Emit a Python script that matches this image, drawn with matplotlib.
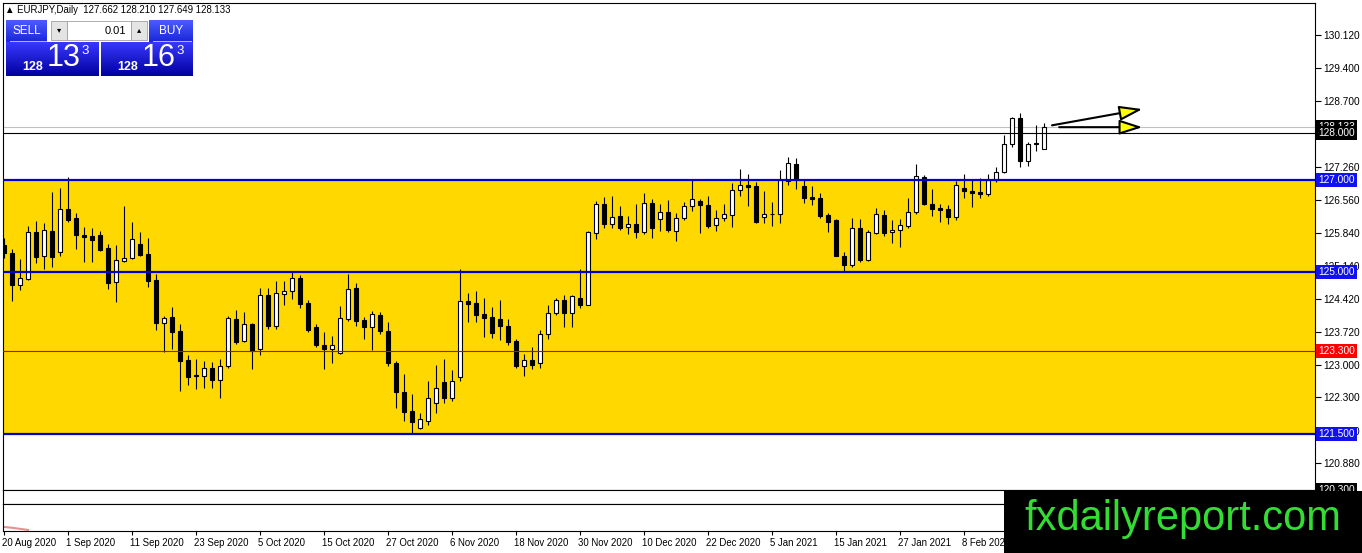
import numpy as np
import matplotlib.pyplot as plt
import matplotlib.transforms as mtransforms
from matplotlib.patches import Rectangle

plt.rcParams['font.family'] = ['Liberation Sans', 'DejaVu Sans']

# EURJPY daily candles from 20 Aug 2020
opens = [125.58, 125.42, 124.72, 124.86, 125.87, 125.36, 125.90, 125.44, 126.36, 126.17,
         125.80, 125.78, 125.80, 125.52, 124.79, 125.25, 125.31, 125.60, 125.39, 124.84,
         123.91, 124.03, 123.73, 123.10, 122.78, 122.75, 122.94, 122.67, 122.97, 123.98,
         123.52, 123.88, 123.34, 124.51, 123.85, 124.54, 124.59, 124.88, 124.34, 123.82,
         123.42, 123.34, 123.26, 124.00, 124.65, 123.96, 123.81, 124.08, 123.74, 123.05,
         122.41, 122.00, 121.63, 121.79, 122.18, 122.62, 122.29, 122.74, 124.38, 124.34,
         124.09, 124.03, 123.98, 123.85, 123.51, 122.98, 123.11, 123.04, 123.66, 124.11,
         124.41, 124.12, 124.45, 124.30, 125.85, 126.47, 126.05, 126.21, 125.97, 126.05,
         125.87, 126.49, 126.14, 126.30, 125.90, 126.16, 126.43, 126.54, 126.45, 126.01,
         126.16, 126.23, 126.77, 126.89, 126.85, 126.19, 126.26, 126.25, 126.96, 127.34,
         126.85, 126.63, 126.61, 126.24, 126.13, 125.36, 125.16, 125.95, 125.27, 125.85,
         126.24, 125.87, 125.92, 126.00, 126.29, 127.06, 126.47, 126.39, 126.36, 126.20,
         126.82, 126.76, 126.74, 126.69, 127.00, 127.17, 127.76, 128.32, 127.40, 127.78,
         127.662]
highs = [125.74, 125.51, 125.29, 126.00, 126.11, 126.07, 126.74, 126.82, 127.05, 126.28,
         125.97, 125.95, 125.89, 125.61, 125.58, 126.43, 126.08, 125.87, 125.74, 124.96,
         124.06, 124.25, 123.88, 123.21, 123.13, 123.09, 123.07, 123.13, 124.06, 124.18,
         124.14, 123.91, 124.67, 124.67, 124.81, 124.81, 125.03, 124.94, 124.40, 123.89,
         123.71, 123.63, 124.27, 124.96, 124.76, 124.03, 124.16, 124.14, 123.92, 123.09,
         122.81, 122.38, 121.96, 122.66, 122.99, 123.12, 122.90, 125.07, 124.56, 124.59,
         124.45, 124.25, 124.40, 123.98, 123.56, 123.23, 123.39, 123.76, 124.29, 124.45,
         124.51, 124.51, 125.07, 125.90, 126.53, 126.63, 126.65, 126.43, 126.21, 126.47,
         126.71, 126.59, 126.48, 126.56, 126.27, 126.51, 126.98, 126.58, 126.65, 126.34,
         126.47, 126.93, 127.22, 127.11, 126.94, 126.76, 126.52, 127.21, 127.49, 127.47,
         127.01, 126.85, 126.71, 126.27, 126.14, 125.44, 126.18, 126.14, 125.92, 126.38,
         126.34, 126.12, 126.14, 126.61, 127.33, 127.09, 126.80, 126.48, 126.45, 126.96,
         127.11, 127.00, 127.04, 127.11, 127.28, 127.96, 128.36, 128.43, 127.80, 128.18,
         128.210]
lows = [125.31, 124.38, 124.62, 124.84, 125.20, 125.07, 125.12, 125.34, 126.09, 125.50,
        125.22, 125.23, 125.45, 124.64, 124.35, 125.22, 125.29, 125.36, 124.69, 123.76,
        123.27, 123.34, 122.43, 122.56, 122.49, 122.51, 122.51, 122.29, 122.94, 123.45,
        123.49, 122.92, 123.21, 123.78, 123.78, 124.30, 124.43, 124.22, 123.72, 123.38,
        122.92, 123.04, 123.23, 123.95, 123.83, 123.56, 123.32, 123.67, 122.98, 122.07,
        121.79, 121.53, 121.61, 121.70, 121.96, 122.18, 122.22, 122.65, 123.92, 123.92,
        123.60, 123.58, 123.54, 123.43, 122.94, 122.76, 122.92, 122.94, 123.56, 124.07,
        123.82, 123.82, 124.23, 124.29, 125.72, 125.96, 125.96, 125.91, 125.82, 125.74,
        125.83, 125.73, 125.89, 125.87, 125.67, 126.12, 126.32, 125.85, 125.95, 125.90,
        126.11, 125.97, 126.65, 126.42, 126.06, 126.07, 126.00, 126.07, 126.88, 126.80,
        126.50, 126.45, 126.18, 125.87, 125.34, 125.02, 125.12, 125.22, 125.25, 125.82,
        125.78, 125.63, 125.54, 125.96, 126.25, 126.46, 126.22, 126.09, 126.05, 126.12,
        126.61, 126.40, 126.60, 126.65, 126.94, 127.14, 127.70, 127.27, 127.29, 127.62,
        127.649]
closes = [125.42, 124.72, 124.87, 125.87, 125.33, 125.92, 125.33, 126.36, 126.12, 125.81,
          125.77, 125.70, 125.49, 124.76, 125.26, 125.31, 125.71, 125.37, 124.82, 123.91,
          124.01, 123.71, 123.08, 122.73, 122.75, 122.93, 122.67, 122.98, 124.01, 123.50,
          123.88, 123.29, 124.51, 123.85, 124.55, 124.59, 124.88, 124.32, 123.76, 123.43,
          123.34, 123.42, 124.01, 124.64, 123.95, 123.82, 124.09, 123.73, 123.04, 122.41,
          121.98, 121.77, 121.83, 122.29, 122.51, 122.29, 122.66, 124.38, 124.32, 124.08,
          124.02, 123.69, 123.85, 123.49, 122.98, 123.11, 122.99, 123.66, 124.12, 124.41,
          124.11, 124.48, 124.30, 125.87, 126.47, 126.05, 126.19, 125.96, 126.03, 125.87,
          126.49, 125.96, 126.30, 125.91, 126.16, 126.42, 126.58, 126.45, 126.00, 126.16,
          126.25, 126.77, 126.89, 126.83, 126.08, 126.25, 126.25, 126.98, 127.36, 126.98,
          126.61, 126.59, 126.21, 126.09, 125.36, 125.16, 125.95, 125.26, 125.87, 126.25,
          125.85, 125.92, 126.01, 126.29, 127.07, 126.47, 126.37, 126.35, 126.20, 126.88,
          126.75, 126.72, 126.69, 127.00, 127.17, 127.76, 128.32, 127.40, 127.76, 127.76,
          128.133]

date_labels = ["20 Aug 2020", "1 Sep 2020", "11 Sep 2020", "23 Sep 2020", "5 Oct 2020",
               "15 Oct 2020", "27 Oct 2020", "6 Nov 2020", "18 Nov 2020", "30 Nov 2020",
               "10 Dec 2020", "22 Dec 2020", "5 Jan 2021", "15 Jan 2021", "27 Jan 2021",
               "8 Feb 2021"]
price_ticks = [130.12, 129.40, 128.70, 127.26, 126.56, 125.84, 125.14, 124.42,
               123.72, 123.00, 122.30, 121.58, 120.88]

zone_low, zone_high = 121.5, 127.0
blue_levels = [127.0, 125.0, 121.5]
red_level = 123.3
black_level = 128.0
bid = 128.133
# price labels on the scale: value, box colour
scale_labels = [(128.133, 'black'), (128.0, 'black'), (127.0, '#1010f0'), (125.0, '#1010f0'),
                (123.3, '#ff0000'), (121.5, '#1010f0'), (120.3, 'black')]
# arrows drawn after the last candle: (bar, price) start and end
arrow_starts = [(131.0, 128.17), (131.9, 128.13)]
arrow_ends = [(142.3, 128.52), (142.3, 128.13)]
indicator = [0.15, 0.12, 0.08, 0.04]

W, H = 1362, 553
fig = plt.figure(figsize=(W / 100, H / 100), dpi=100)


def px_axes(x0, y0, x1, y1):
    return fig.add_axes([x0 / W, 1 - y1 / H, (x1 - x0) / W, (y1 - y0) / H])


ax = px_axes(3, 3, 1315, 490)
sub1 = px_axes(3, 490, 1315, 504)
sub2 = px_axes(3, 504, 1315, 531)
xlim = (-0.125, 163.875)

# candles
x = np.arange(len(opens))
o, hi, lo, c = (np.array(a) for a in (opens, highs, lows, closes))
up = c >= o
ax.vlines(x, lo, hi, color='black', lw=0.8, zorder=3)
ax.bar(x, np.maximum(np.abs(c - o), 0.01), bottom=np.minimum(o, c), width=0.62,
       color=np.where(up, 'white', 'black'), edgecolor='black', lw=0.8, zorder=4)

# zone and levels
ax.axhspan(zone_low, zone_high, color='#ffd800', lw=0, zorder=1)
ax.axhline(bid, color='#c0c0c0', lw=0.8, zorder=2)
ax.axhline(black_level, color='black', lw=0.8, zorder=5)
ax.axhline(red_level, color='#e00000', lw=0.8, zorder=5)
for lvl in blue_levels:
    ax.axhline(lvl, color='#0000cc', lw=1.6, zorder=5)

for (x0, y0), (x1, y1) in zip(arrow_starts, arrow_ends):
    ax.annotate('', xy=(x1, y1), xytext=(x0, y0), annotation_clip=False,
                arrowprops=dict(arrowstyle='-|>,head_length=1.4,head_width=0.45',
                                fc='#ffff00', ec='black', lw=1.5, shrinkA=0, shrinkB=0),
                zorder=6)

ax.set_xlim(*xlim)
ax.set_ylim(120.30, 130.81)
ax.set_xticks([])
ax.yaxis.tick_right()
ax.set_yticks(price_ticks)
ax.set_yticklabels([f"{v:.3f}" for v in price_ticks])
ax.tick_params(axis='y', length=4, width=0.8, pad=2, labelsize=7.3)

for val, fc in scale_labels:
    ax.annotate(f"{val:.3f}", xy=(1, val), xycoords=('axes fraction', 'data'),
                xytext=(2.5, 0), textcoords='offset points', ha='left', va='center',
                fontsize=7.3, color='white', annotation_clip=False, zorder=7,
                bbox=dict(boxstyle='square,pad=0.2', fc=fc, ec='none'))

for a in (sub1, sub2):
    a.set_xlim(*xlim)
    a.set_yticks([])
sub1.set_xticks([])
sub2.plot(x[:len(indicator)], indicator, color='#e89090', lw=1.5)
sub2.set_ylim(0, 1)
sub2.set_xticks(np.arange(0, 8 * len(date_labels), 8))
sub2.set_xticklabels(date_labels, ha='left', fontsize=6.9)
sub2.tick_params(axis='x', length=3, width=0.8, pad=2)
shift = mtransforms.ScaledTranslation(-2 / 100, 0, fig.dpi_scale_trans)
for lab in sub2.get_xticklabels():
    lab.set_transform(lab.get_transform() + shift)

for a in (ax, sub1, sub2):
    for s in a.spines.values():
        s.set_linewidth(0.8)

# header line
fig.text(5 / W, 1 - 10 / H, "\u25b2 EURJPY,Daily  127.662 128.210 127.649 128.133",
         fontsize=6.9, va='center', ha='left', family=['Liberation Sans', 'DejaVu Sans'])

# one-click trading panel and logo, drawn in pixel space
ui = fig.add_axes([0, 0, 1, 1], zorder=10)
ui.patch.set_alpha(0)
ui.axis('off')


def grad_box(x0, y0, x1, y1, top, bottom):
    g = np.linspace(0, 1, 64)[:, None, None]
    img = (1 - g) * np.array(top) + g * np.array(bottom)
    ui.imshow(img, extent=(x0, x1, y1, y0), aspect='auto', interpolation='bilinear', zorder=1)


grad_box(6, 20, 47, 42, (0.30, 0.36, 1.0), (0.10, 0.15, 0.85))
grad_box(149, 20, 193, 42, (0.30, 0.36, 1.0), (0.10, 0.15, 0.85))
grad_box(6, 42, 99, 76, (0.22, 0.22, 1.0), (0.0, 0.0, 0.62))
grad_box(101, 42, 193, 76, (0.22, 0.22, 1.0), (0.0, 0.0, 0.62))
ui.plot([10, 46], [41, 41], color='#b0b8ff', lw=0.7, zorder=2)
ui.plot([153, 191], [41, 41], color='#b0b8ff', lw=0.7, zorder=2)
ui.add_patch(Rectangle((51, 21), 16, 19, fc='#e4e4e4', ec='#a0a0a0', lw=0.6, zorder=2))
ui.add_patch(Rectangle((67, 21), 64, 19, fc='white', ec='#a0a0a0', lw=0.6, zorder=2))
ui.add_patch(Rectangle((131, 21), 16, 19, fc='#e4e4e4', ec='#a0a0a0', lw=0.6, zorder=2))
ui.text(59, 30.5, "\u25be", fontsize=6, ha='center', va='center', zorder=3)
ui.text(139, 30.5, "\u25b4", fontsize=6, ha='center', va='center', zorder=3)
ui.text(126, 30.5, "0.01", fontsize=8, ha='right', va='center', zorder=3)
ui.text(27, 30.5, "SELL", fontsize=8.5, color='white', ha='center', va='center', zorder=3)
ui.text(171, 30.5, "BUY", fontsize=8.5, color='white', ha='center', va='center', zorder=3)
for bx, big in ((0, "13"), (95, "16")):
    ui.text(33 + bx, 67.5, "128", fontsize=9, color='white', ha='center', va='center',
            weight='bold', zorder=3)
    ui.text(64 + bx, 58, big, fontsize=22, color='white', ha='center', va='center', zorder=3)
    ui.text(85 + bx, 51, "3", fontsize=9.5, color='white', ha='center', va='center', zorder=3)

ui.add_patch(Rectangle((1004, 491), W - 1004, H - 491, fc='black', ec='none', zorder=4))
ui.text(1183, 519, "fxdailyreport.com", fontsize=30, color='#33dd33', ha='center',
        va='center', zorder=5)
ui.set_xlim(0, W)
ui.set_ylim(H, 0)

fig.savefig('out.png', dpi=100, facecolor='white')
